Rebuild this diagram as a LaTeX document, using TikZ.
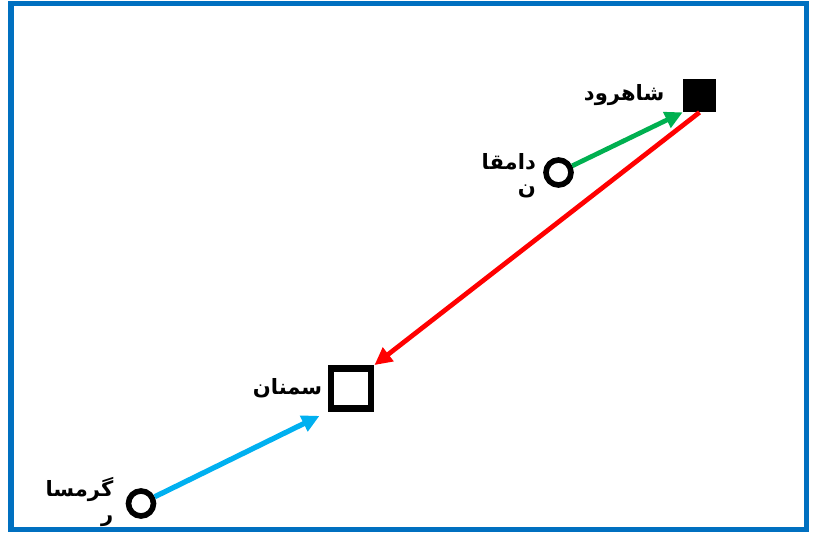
\documentclass[tikz,border=0pt]{standalone}
\usepackage{fontspec}
\newfontfamily\arabicfont[Script=Arabic]{DejaVu Sans}
\TeXXeTstate=1
\usetikzlibrary{arrows.meta,positioning}
\definecolor{framecol}{HTML}{0070C0}
\definecolor{linkgreen}{HTML}{00B050}
\definecolor{linkred}{HTML}{FF0000}
\definecolor{linkblue}{HTML}{00B0F0}
\begin{document}
\begin{tikzpicture}[x=0.02cm, y=-0.02cm,
  town/.style={circle, draw, line width=3.2pt, minimum size=0.5cm, inner sep=0pt},
  city/.style={rectangle, draw, line width=3.9pt, minimum size=0.8cm, inner sep=0pt},
  lbl/.style={font=\arabicfont\bfseries\large, align=right, inner sep=0pt},
  link/.style={line width=2.7pt, -{Triangle[length=10pt,width=9.5pt]}}]
  \useasboundingbox (0,0) rectangle (816,533);
  % stations
  \node[rectangle, fill, minimum size=0.66cm, inner sep=0pt] (shahrud) at (699.5,95.5) {};
  \node[town] (damghan) at (558.5,172.5) {};
  \node[city] (semnan) at (351,388.5) {};
  \node[town] (garmsar) at (141,503.5) {};
  % names
  \node[lbl, left=0.36cm of shahrud] (shahrudlbl) {\beginR شاهرود\endR};
  \node[lbl, left=0.14cm of damghan, yshift=-0.06cm] (damghanlbl) {\beginR دامقا\endR\\\beginR ن\endR};
  \node[lbl, left=0.1cm of semnan] (semnanlbl) {\beginR سمنان\endR};
  \node[lbl, left=0.24cm of garmsar, yshift=0.03cm] (garmsarlbl) {\beginR گرمسا\endR\\\beginR ر\endR};
  % links
  \draw[link, linkgreen] (damghan) -- (shahrud.south west);
  \draw[link, linkred] (shahrud.south) -- (semnan.north east);
  \draw[link, linkblue, line width=3pt, shorten >=0.18cm] (garmsar) -- (semnan.south west);
  % frame
  \draw[framecol, line width=3.1pt] (11,3.5) rectangle (806.5,529.5);
\end{tikzpicture}
\end{document}
